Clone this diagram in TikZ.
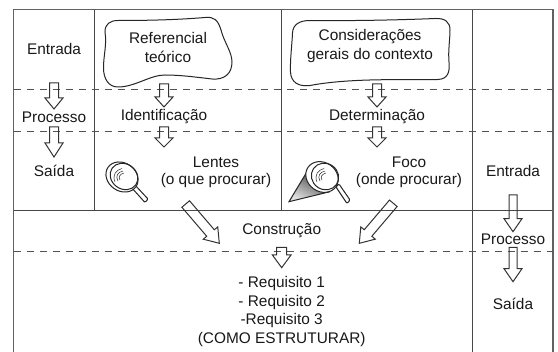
\documentclass[tikz,border=0pt]{standalone}
\usepackage{fontspec}
\setmainfont{Liberation Sans}
\usetikzlibrary{calc}
\tikzset{
  x=1pt,y=-1pt,
  outer/.style={draw=black!62,line width=1.5pt},
  frame/.style={draw=black!72,line width=1.1pt},
  sep/.style={draw=black!68,line width=1pt,dash pattern=on 7.5pt off 5.5pt},
  hollow/.style={draw=black!80,line width=1pt,line join=miter},
  blob/.style={draw=black!85,line width=1pt},
  lens/.style={draw=black!85,line width=1pt},
  lab/.style={font=\fontsize{15.4}{18}\selectfont,text=black!90,inner sep=0pt,anchor=center},
}
% hollow block arrow between two named coordinates: from, to, half shaft, half head, head length
\newcommand{\blockarrow}[5]{%
  \coordinate (hb) at ($(#2)!#5!(#1)$);
  \draw[hollow] ($(#1)!#3!90:(#2)$) -- ($(hb)!#3!90:(#2)$) -- ($(hb)!#4!90:(#2)$) -- (#2)
     -- ($(hb)!#4!-90:(#2)$) -- ($(hb)!#3!-90:(#2)$) -- ($(#1)!#3!-90:(#2)$) -- cycle;}
\begin{document}
\begin{tikzpicture}
\useasboundingbox (0,0) rectangle (558,352);
\fill[white] (0,0) rectangle (558,352);
% frame
\draw[frame] (94.5,9.5) -- (94.5,210.7);
\draw[frame] (281.5,9.5) -- (281.5,210.7);
\draw[frame] (472.8,9.5) -- (472.8,352);
\draw[frame] (13.5,210.7) -- (553,210.7);
\draw[outer] (13.5,352) -- (13.5,9.7) -- (553,9.7) -- (553,352);
\draw[sep] (13.5,90) -- (553,90);
\draw[sep] (13.5,132) -- (553,132);
\draw[sep] (13.5,251.7) -- (553,251.7);
% blobs
\draw[blob] (105,32) .. controls (105,24) and (110,20.5) .. (118,20.5) .. controls (145,20.5) and (175,20) .. (205,17.5) .. controls (214,16.5) and (218,20) .. (221,30) .. controls (224,42) and (232,52) .. (232,62) .. controls (232,74) and (224,80) .. (212,79) .. controls (195,77) and (180,75) .. (165,75) .. controls (150,75) and (135,87) .. (118,87) .. controls (108,87) and (103.5,78) .. (103.5,68) .. controls (103.5,55) and (107,45) .. (105,32) -- cycle;
\draw[blob] (292.5,33) .. controls (293,24) and (300,20.5) .. (310,20.5) .. controls (350,21) and (400,20) .. (435,18.5) .. controls (445,18) and (450,22) .. (450,30) .. controls (450,40) and (448,50) .. (449,62) .. controls (450,72) and (448,79) .. (438,79.5) .. controls (400,80) and (350,78) .. (310,85.5) .. controls (298,87) and (291,82) .. (290.5,72) .. controls (290,60) and (292,45) .. (292.5,33) -- cycle;
% arrows
\foreach \n/\xa/\ya/\xb/\yb in {a/54/83/54/109,b/54/127/54/157,c/164/84/164/107,d/164/127/164/147,
   e/377/84/377/107,f/377/127/377/147,g/513/195/513/231.7,h/513/247.3/513/281.7,i/281.7/247.3/281.7/267.7}{
  \coordinate (\n s) at (\xa,\ya);
  \coordinate (\n t) at (\xb,\yb);
}
\blockarrow{as}{at}{4.5pt}{9pt}{11pt}
\blockarrow{bs}{bt}{4.5pt}{9pt}{14pt}
\blockarrow{cs}{ct}{4.5pt}{9pt}{10pt}
\blockarrow{ds}{dt}{4.5pt}{9pt}{9pt}
\blockarrow{es}{et}{4.5pt}{9pt}{10pt}
\blockarrow{fs}{ft}{4.5pt}{9pt}{9pt}
\blockarrow{gs}{gt}{4pt}{9pt}{13pt}
\blockarrow{hs}{ht}{4pt}{9pt}{13pt}
\blockarrow{is}{it}{5pt}{9.3pt}{12.7pt}
\coordinate (js) at (185.7,204); \coordinate (jt) at (219.3,243.3);
\coordinate (ks) at (393.3,203.3); \coordinate (kt) at (359.3,243.3);
\blockarrow{js}{jt}{5pt}{9.5pt}{13.5pt}
\blockarrow{ks}{kt}{5pt}{9.5pt}{13.5pt}
% left magnifier
\draw[lens,fill=white,rounded corners=1pt] (131,187) -- (134,184) -- (148,199) -- (145,202.5) -- cycle;
\draw[lens,fill=white] (122,177) ellipse[x radius=17,y radius=14,rotate=-35];
\draw[lens] (124,176.5) ellipse[x radius=14.5,y radius=12.5,rotate=-35];
\draw[lens,line width=0.5pt] (115,182) .. controls (112,175) and (116,170) .. (122,168.5);
\draw[lens,line width=0.5pt] (118,181) .. controls (115,176) and (118,172) .. (123,171);
\draw[lens,line width=0.5pt] (120,180) .. controls (118,177) and (120,174) .. (124,173);
% right magnifier
\shade[left color=black!85,right color=black!12,shading angle=-28] (289,201.7) -- (310,166.7) -- (330,191.7) -- cycle;
\draw[lens] (310,166.7) -- (289,201.7) -- (330,191.7);
\draw[lens,fill=white,rounded corners=1pt] (336,187) -- (339,184) -- (350,200) -- (347,203.5) -- cycle;
\draw[lens,fill=white] (322,177) ellipse[x radius=17,y radius=14.5,rotate=-35];
\draw[lens] (325,176.5) ellipse[x radius=14,y radius=13,rotate=-35];
\draw[lens,line width=0.5pt] (317,182) .. controls (314,175) and (318,170) .. (324,168.5);
\draw[lens,line width=0.5pt] (320,181) .. controls (317,176) and (320,172) .. (325,171);
\draw[lens,line width=0.5pt] (322,180) .. controls (320,177) and (322,174) .. (326,173);
% labels
\node[lab] (n1) at (54,49) {Entrada};
\node[lab] (n2) at (54,117.5) {Processo};
\node[lab] (n3) at (54,171) {Saída};
\node[lab] (n4) at (168,38) {Referencial};
\node[lab] (n5) at (168,57) {teórico};
\node[lab] (n6) at (164,116.5) {Identificação};
\node[lab] (n7) at (216,162) {Lentes};
\node[lab] (n8) at (216,181) {(o que procurar)};
\node[lab] (n9) at (370,37) {Considerações};
\node[lab] (n10) at (370,56) {gerais do contexto};
\node[lab] (n11) at (377,117) {Determinação};
\node[lab] (n12) at (409,162) {Foco};
\node[lab] (n13) at (409,181) {(onde procurar)};
\node[lab] (n14) at (513,171) {Entrada};
\node[lab] (n15) at (281.7,230.7) {Construção};
\node[lab] (n16) at (513,239) {Processo};
\node[lab] (n17) at (513,304) {Saída};
\node[lab] (n18) at (281.7,284) {- Requisito 1};
\node[lab] (n19) at (281.7,302.7) {- Requisito 2};
\node[lab] (n20) at (281.7,321) {-Requisito 3};
\node[lab] (n21) at (281.7,340) {(COMO ESTRUTURAR)};
\end{tikzpicture}
\end{document}
